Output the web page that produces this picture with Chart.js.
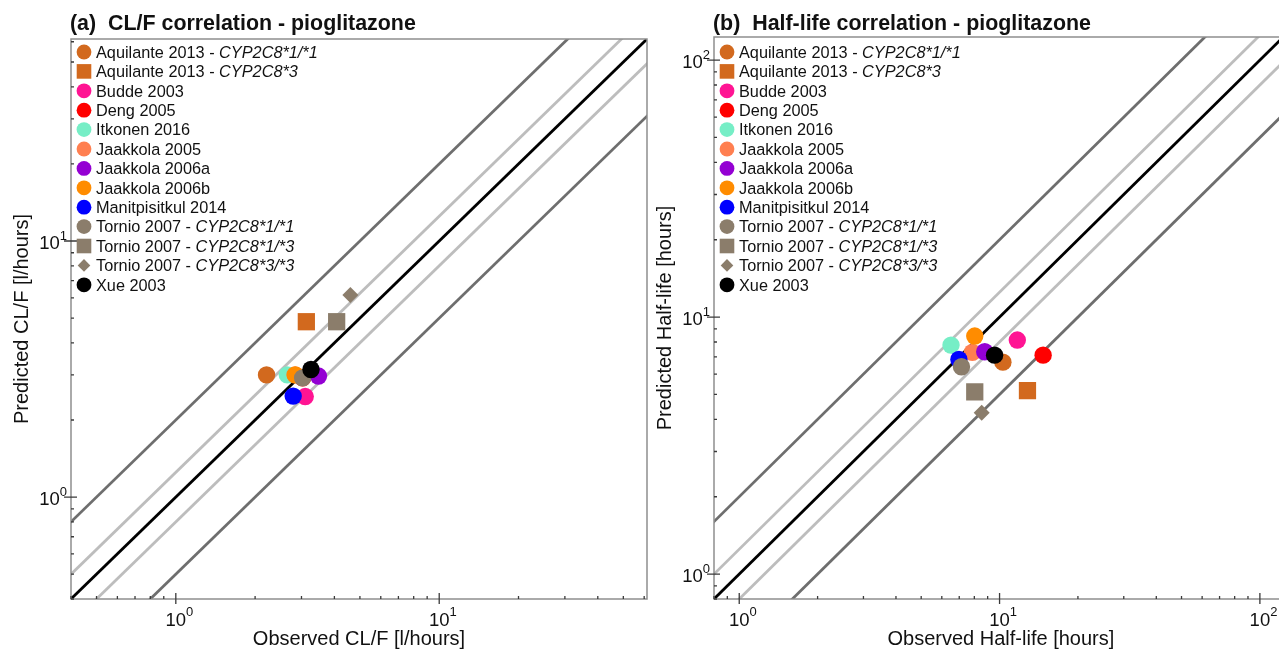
<!DOCTYPE html>
<html lang="en">
<head>
<meta charset="UTF-8">
<title>Pioglitazone CL/F and half-life correlation</title>
<script src="https://cdn.jsdelivr.net/npm/chart.js@4"></script>
<style>
  body { margin: 0; background: #fff; overflow: hidden; width: 1279px; height: 650px; position: relative; }
  canvas { position: absolute; top: 0; }
  #clfChart { left: 0; }
  #halfChart { left: 640px; }
</style>
</head>
<body>
<canvas id="clfChart" width="660" height="650"></canvas>
<canvas id="halfChart" width="660" height="650"></canvas>
<script>
// studies, in legend order
const studies = ['Aquilante 2013', 'Aquilante 2013', 'Budde 2003', 'Deng 2005', 'Itkonen 2016', 'Jaakkola 2005',
  'Jaakkola 2006a', 'Jaakkola 2006b', 'Manitpisitkul 2014', 'Tornio 2007', 'Tornio 2007', 'Tornio 2007', 'Xue 2003'];
const genotypes = ['CYP2C8*1/*1', 'CYP2C8*3', '', '', '', '', '', '', '', 'CYP2C8*1/*1', 'CYP2C8*1/*3', 'CYP2C8*3/*3', ''];
const markers = ['circle', 'rect', 'circle', 'circle', 'circle', 'circle', 'circle', 'circle', 'circle', 'circle', 'rect', 'rectRot', 'circle'];
const colors = ['#D2691E', '#D2691E', '#FF1493', '#FF0000', '#76EEC6', '#FF7F50', '#9400D3', '#FF8C00', '#0000FF',
  '#8B7D6B', '#8B7D6B', '#8B7D6B', '#000000'];

// CL/F [l/hours]
const clfObserved  = [2.21, 3.13, 3.10, 3.03, 2.65, 2.84, 3.48, 2.84, 2.79, 3.03, 4.08, 4.60, 3.26];
const clfPredicted = [3.00, 4.84, 2.47, 2.92, 3.00, 3.00, 2.97, 3.00, 2.48, 2.92, 4.84, 6.15, 3.15];

// half-life [hours]
const halfObserved  = [10.3, 12.8, 11.7, 14.7, 6.51, 7.86, 8.77, 8.03, 6.98, 7.14, 8.03, 8.54, 9.57];
const halfPredicted = [6.68, 5.17, 8.14, 7.11, 7.78, 7.29, 7.33, 8.44, 6.84, 6.41, 5.12, 4.24, 7.11];

// identity and fold-error lines
const foldFactors = [2, 1.25, 1, 0.8, 0.5];

// labelled decades
const clfDecades = [1, 10];
const halfDecades = [1, 10, 100];

const FONT = '"Liberation Sans", Arial, sans-serif';

function lineStyle(f) {
  if (f === 1) return { color: '#000000', width: 2.8 };
  if (f === 2 || f === 0.5) return { color: '#6E6E6E', width: 2.8 };
  return { color: '#BDBDBD', width: 2.8 };
}

function drawMarker(ctx, style, color, x, y) {
  ctx.fillStyle = color;
  ctx.beginPath();
  if (style === 'rect') {
    ctx.rect(x - 7.3, y - 7.3, 14.6, 14.6);
  } else if (style === 'rectRot') {
    ctx.moveTo(x - 6.3, y); ctx.lineTo(x, y - 6.3); ctx.lineTo(x + 6.3, y); ctx.lineTo(x, y + 6.3);
    ctx.closePath();
  } else {
    ctx.arc(x, y, 7.4, 0, Math.PI * 2);
  }
  ctx.fill();
}

function tickKind(v) {
  const e = Math.floor(Math.log10(v) + 1e-9);
  const m = v / Math.pow(10, e);
  if (Math.abs(m - Math.round(m)) > 1e-6) return null;
  return Math.round(m) === 1 ? 'major' : 'minor';
}

const panelPlugin = {
  id: 'panel',
  afterDraw(chart, args, opts) {
    const { ctx, chartArea: a } = chart;
    const xs = chart.scales.x, ys = chart.scales.y;
    ctx.save();

    // frame
    ctx.strokeStyle = '#8E8E8E';
    ctx.lineWidth = 1.5;
    ctx.strokeRect(a.left, a.top, a.right - a.left, a.bottom - a.top);

    // tick marks
    ctx.strokeStyle = '#3A3A3A';
    ctx.lineWidth = 1.3;
    ctx.beginPath();
    xs.ticks.forEach(t => {
      const k = tickKind(t.value);
      const px = xs.getPixelForValue(t.value);
      if (!k || px < a.left - 0.5 || px > a.right + 0.5) return;
      ctx.moveTo(px, k === 'major' ? a.bottom + 5 : a.bottom);
      ctx.lineTo(px, a.bottom - (k === 'major' ? 6 : 3));
    });
    ys.ticks.forEach(t => {
      const k = tickKind(t.value);
      const py = ys.getPixelForValue(t.value);
      if (!k || py < a.top - 0.5 || py > a.bottom + 0.5) return;
      ctx.moveTo(k === 'major' ? a.left - 7 : a.left, py);
      ctx.lineTo(a.left + (k === 'major' ? 6 : 3), py);
    });
    ctx.stroke();

    // decade labels, 10 with a raised exponent
    ctx.fillStyle = '#111';
    ctx.textBaseline = 'alphabetic';
    opts.decades.forEach(v => {
      const exp = String(Math.round(Math.log10(v)));
      const px = xs.getPixelForValue(v);
      if (px <= a.right + 2) {
        ctx.font = `18.5px ${FONT}`;
        const w = ctx.measureText('10').width;
        ctx.textAlign = 'left';
        ctx.fillText('10', px - w / 2, a.bottom + 27);
        ctx.font = `13px ${FONT}`;
        ctx.fillText(exp, px + w / 2, a.bottom + 17);
      }
      const py = ys.getPixelForValue(v);
      if (py >= a.top - 2) {
        ctx.font = `13px ${FONT}`;
        const ws = ctx.measureText(exp).width;
        ctx.textAlign = 'right';
        ctx.fillText(exp, a.left - 4, py - 1);
        ctx.font = `18.5px ${FONT}`;
        ctx.fillText('10', a.left - 4 - ws, py + 8);
      }
    });

    // legend
    const lx = a.left + 13;
    studies.forEach((s, i) => {
      const cy = opts.legendTop + i * 19.4;
      drawMarker(ctx, markers[i], colors[i], lx, cy);
      ctx.fillStyle = '#111';
      ctx.textAlign = 'left';
      ctx.font = `16.3px ${FONT}`;
      const head = genotypes[i] ? s + ' - ' : s;
      ctx.fillText(head, lx + 12, cy + 5.7);
      if (genotypes[i]) {
        const w = ctx.measureText(head).width;
        ctx.font = `italic 16.3px ${FONT}`;
        ctx.fillText(genotypes[i], lx + 12 + w, cy + 5.7);
      }
    });

    // panel title
    ctx.font = `bold 21.4px ${FONT}`;
    ctx.textAlign = 'left';
    ctx.fillText(opts.title, a.left - 1, 30);

    // axis titles
    ctx.font = `20px ${FONT}`;
    ctx.textAlign = 'center';
    ctx.fillText(opts.xTitle, (a.left + a.right) / 2, 645);
    ctx.save();
    ctx.translate(opts.yTitleX, (a.top + a.bottom) / 2);
    ctx.rotate(-Math.PI / 2);
    ctx.textBaseline = 'middle';
    ctx.fillText(opts.yTitle, 0, 0);
    ctx.restore();

    ctx.restore();
  }
};

function buildChart(id, obs, pred, range, layout, panel) {
  const datasets = foldFactors.map(f => {
    const st = lineStyle(f);
    return {
      type: 'line',
      data: [{ x: 1e-3, y: 1e-3 * f }, { x: 1e4, y: 1e4 * f }],
      borderColor: st.color,
      borderWidth: st.width,
      pointRadius: 0,
      clip: 0,
      order: 100
    };
  });
  studies.forEach((s, i) => {
    const style = markers[i];
    datasets.push({
      type: 'scatter',
      label: genotypes[i] ? s + ' - ' + genotypes[i] : s,
      data: [{ x: obs[i], y: pred[i] }],
      pointStyle: style,
      pointRadius: style === 'rect' ? 12.2 : (style === 'rectRot' ? 8 : 8.7),
      backgroundColor: colors[i],
      borderWidth: 0,
      order: studies.length - i
    });
  });

  return new Chart(document.getElementById(id), {
    data: { datasets },
    options: {
      responsive: false,
      animation: false,
      devicePixelRatio: 1,
      events: [],
      layout: { padding: layout.padding },
      scales: {
        x: {
          type: 'logarithmic', min: range.x[0], max: range.x[1],
          grid: { display: false }, border: { display: false },
          ticks: { display: false, autoSkip: false },
          afterFit: s => { s.height = layout.xHeight; }
        },
        y: {
          type: 'logarithmic', min: range.y[0], max: range.y[1],
          grid: { display: false }, border: { display: false },
          ticks: { display: false, autoSkip: false },
          afterFit: s => { s.width = layout.yWidth; }
        }
      },
      plugins: {
        legend: { display: false },
        tooltip: { enabled: false },
        panel
      }
    },
    plugins: [panelPlugin]
  });
}

buildChart('clfChart', clfObserved, clfPredicted,
  { x: [0.4, 61.5], y: [0.4, 61.5] },
  { padding: { top: 39, right: 13, bottom: 0, left: 0 }, xHeight: 51, yWidth: 71 },
  {
    title: '(a)  CL/F correlation - pioglitazone',
    xTitle: 'Observed CL/F [l/hours]',
    yTitle: 'Predicted CL/F [l/hours]',
    yTitleX: 22,
    decades: clfDecades,
    legendTop: 52
  });

buildChart('halfChart', halfObserved, halfPredicted,
  { x: [0.8, 128], y: [0.8, 123] },
  { padding: { top: 37, right: 8, bottom: 0, left: 0 }, xHeight: 51, yWidth: 74 },
  {
    title: '(b)  Half-life correlation - pioglitazone',
    xTitle: 'Observed Half-life [hours]',
    yTitle: 'Predicted Half-life [hours]',
    yTitleX: 25,
    decades: halfDecades,
    legendTop: 52
  });
</script>
</body>
</html>
